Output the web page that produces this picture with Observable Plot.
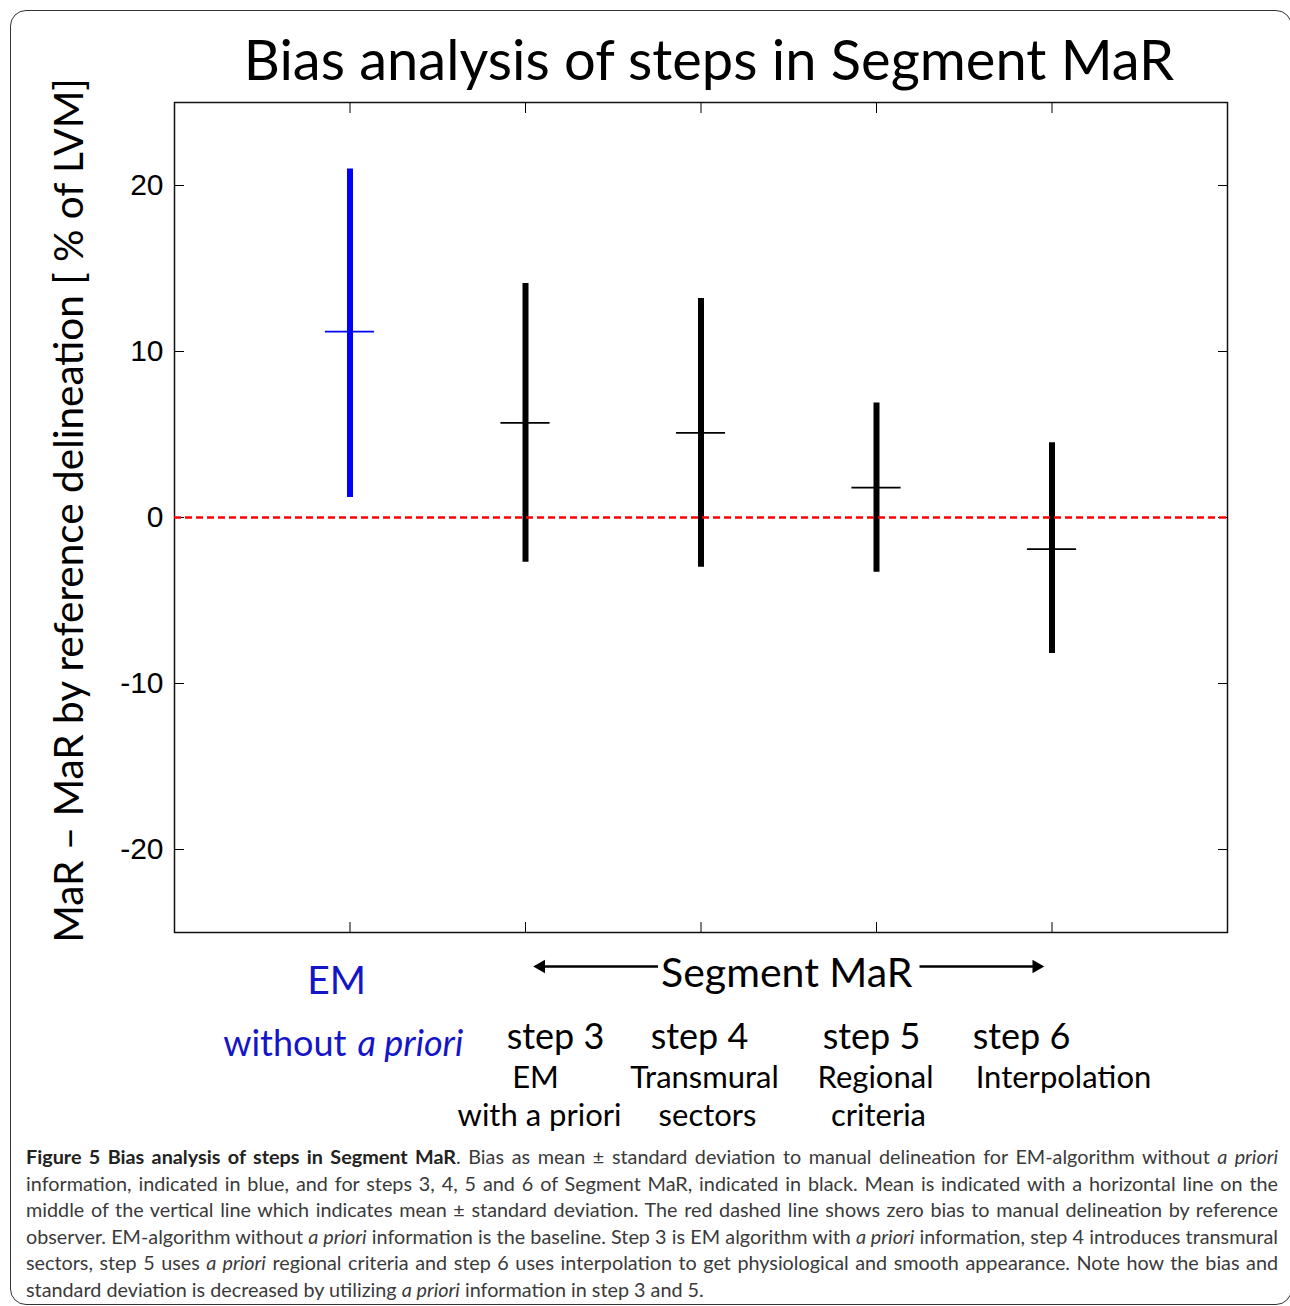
<!DOCTYPE html>
<html><head><meta charset="utf-8">
<script src="https://cdn.jsdelivr.net/npm/d3@7"></script>
<script src="https://cdn.jsdelivr.net/npm/@observablehq/plot@0.6"></script>
<style>
body{margin:0;background:#fff;}
#wrap{position:relative;width:1290px;height:1306px;overflow:hidden;background:#fff;}
#border{position:absolute;left:10px;top:10px;width:1282px;height:1295px;border:1.5px solid #333;border-radius:16px;box-sizing:border-box;}
#chart{position:absolute;left:0;top:0;}
#caption{position:absolute;left:26px;top:1143px;width:1252px;font-family:Lato,"Open Sans",sans-serif;font-size:19.8px;color:#3a3a3a;line-height:26.6px;}
#caption .ln{text-align:justify;text-align-last:justify;white-space:nowrap;}
#caption .last{text-align:left;text-align-last:left;}
#caption b{color:#222;}
</style>
</head><body>
<div id="wrap">
<div id="border"></div>
<div id="chart"></div>
<div id="caption"></div>
</div>
<script>
// ---- data ----
const categories = ["EM without a priori", "step 3", "step 4", "step 5", "step 6"];
const means = [11.2, 5.7, 5.1, 1.8, -1.9];
const lows  = [1.2, -2.7, -3.0, -3.3, -8.2];
const highs = [21.0, 14.1, 13.2, 6.9, 4.5];
const yTicks = [-20, -10, 0, 10, 20];
const titleText = "Bias analysis of steps in Segment MaR";
const yLabel = "MaR \u2013 MaR by reference delineation [ % of LVM]";
const baseLabel = ["EM", "without", "a priori"];
const groupLabel = "Segment MaR";
const stepNames = ["step 3", "step 4", "step 5", "step 6"];
const stepDesc1 = ["EM", "Transmural", "Regional", "Interpolation"];
const stepDesc2 = ["with a priori", "sectors", "criteria"];
const captionLines = [
 "<b>Figure 5 Bias analysis of steps in Segment MaR</b>. Bias as mean \u00b1 standard deviation to manual delineation for EM-algorithm without <i>a priori</i>",
 "information, indicated in blue, and for steps 3, 4, 5 and 6 of Segment MaR, indicated in black. Mean is indicated with a horizontal line on the",
 "middle of the vertical line which indicates mean \u00b1 standard deviation. The red dashed line shows zero bias to manual delineation by reference",
 "observer. EM-algorithm without <i>a priori</i> information is the baseline. Step 3 is EM algorithm with <i>a priori</i> information, step 4 introduces transmural",
 "sectors, step 5 uses <i>a priori</i> regional criteria and step 6 uses interpolation to get physiological and smooth appearance. Note how the bias and",
 "standard deviation is decreased by utilizing <i>a priori</i> information in step 3 and 5."
];

// ---- layout ----
const BLUE = "#0000ff", TEXTBLUE = "#1414c8";
const positions = categories.map((c, i) => i + 1);
const data = categories.map((c, i) => ({cat: c, pos: i + 1, mean: means[i], lo: lows[i], hi: highs[i], color: i === 0 ? BLUE : "black"}));
const steps = data.slice(1);
const F = "Lato, 'Open Sans', sans-serif";
const halfTick = 0.14;
const nameDx = [30, -1.5, -5, -30.5];
const d1Dx = [10, 3.5, -1, 11.5];
const d2Dx = [14, 6.5, 2];
const yMin = -25, yMax = 25;
const first = steps[0].pos, last = steps[steps.length - 1].pos, mid = (first + last) / 2;

const labelMarks = [];
steps.forEach((s, i) => {
  labelMarks.push(Plot.text([stepNames[i]], {x: [s.pos], text: d => d, frameAnchor: "bottom", lineAnchor: "bottom", dy: 116, dx: nameDx[i], fontSize: 36, fontFamily: F, fill: "black"}));
  labelMarks.push(Plot.text([stepDesc1[i]], {x: [s.pos], text: d => d, frameAnchor: "bottom", lineAnchor: "bottom", dy: 155, dx: d1Dx[i], fontSize: 31, fontFamily: F, fill: "black"}));
  if (stepDesc2[i]) labelMarks.push(Plot.text([stepDesc2[i]], {x: [s.pos], text: d => d, frameAnchor: "bottom", lineAnchor: "bottom", dy: 193, dx: d2Dx[i], fontSize: 31, fontFamily: F, fill: "black"}));
});

const chart = Plot.plot({
  width: 1290, height: 1140,
  marginLeft: 174, marginRight: 63, marginTop: 102, marginBottom: 208,
  x: {domain: [0, 6]},
  y: {domain: [yMin, yMax]},
  color: {type: "identity"},
  style: {background: "transparent", color: "black", overflow: "visible"},
  marks: [
    Plot.frame({stroke: "#111", strokeWidth: 1.5}),
    Plot.axisY(yTicks, {anchor: "left", tickSize: 0, tickPadding: 11, fontSize: 30, fontFamily: "'Liberation Sans', Arial, sans-serif", label: null, tickFormat: d => String(d), fill: "black"}),
    Plot.axisY(yTicks, {anchor: "left", tickSize: -10, tickFormat: () => "", label: null}),
    Plot.axisY(yTicks, {anchor: "right", tickSize: -10, tickFormat: () => "", label: null}),
    Plot.axisX(positions, {anchor: "bottom", tickSize: -10, tickFormat: () => "", label: null}),
    Plot.axisX(positions, {anchor: "top", tickSize: -10, tickFormat: () => "", label: null}),
    Plot.ruleX(data, {x: "pos", y1: "lo", y2: "hi", stroke: "color", strokeWidth: 6}),
    Plot.ruleY(data, {y: "mean", x1: d => d.pos - halfTick, x2: d => d.pos + halfTick, stroke: "color", strokeWidth: 1.8}),
    Plot.ruleY([0], {stroke: "#ff0000", strokeWidth: 2.5, strokeDasharray: "7,4"}),
    // title
    Plot.text([titleText], {text: d => d, frameAnchor: "top", lineAnchor: "bottom", dy: -23, dx: 8, fontSize: 56, fontFamily: F, fill: "black"}),
    // y label
    Plot.text([yLabel], {text: d => d, frameAnchor: "left", textAnchor: "middle", rotate: -90, lineAnchor: "bottom", dx: -92, dy: -7, fontSize: 40.5, fontFamily: F, fill: "black"}),
    // baseline label
    Plot.text([baseLabel[0]], {x: [data[0].pos], text: d => d, frameAnchor: "bottom", lineAnchor: "bottom", dy: 61, dx: -13.5, fontSize: 39, fontFamily: F, fill: TEXTBLUE}),
    Plot.text([baseLabel[1]], {x: [data[0].pos], text: d => d, frameAnchor: "bottom", lineAnchor: "bottom", textAnchor: "end", dy: 123, dx: -3.5, fontSize: 36, fontFamily: F, fill: TEXTBLUE}),
    Plot.text([baseLabel[2]], {x: [data[0].pos], text: d => d, frameAnchor: "bottom", lineAnchor: "bottom", textAnchor: "start", dy: 123, dx: 7.5, fontSize: 36, fontFamily: F, fontStyle: "italic", fill: TEXTBLUE}),
    // group label with arrows
    Plot.text([groupLabel], {x: [mid], text: d => d, frameAnchor: "bottom", lineAnchor: "bottom", dy: 54, dx: -2, fontSize: 41, fontFamily: F, fill: "black"}),
    Plot.link([[mid - 0.745, first + 0.06], [mid + 0.745, last - 0.06]], {x1: d => d[0], x2: d => d[1], y1: () => yMin, y2: () => yMin, dy: 34, stroke: "black", strokeWidth: 2.5}),
    Plot.dot([first], {x: d => d, y: () => yMin, dy: 34, dx: 15.6, symbol: "triangle2", r: 6.5, rotate: -90, fill: "black", stroke: "none"}),
    Plot.dot([last], {x: d => d, y: () => yMin, dy: 34, dx: -15.6, symbol: "triangle2", r: 6.5, rotate: 90, fill: "black", stroke: "none"}),
    ...labelMarks
  ]
});
document.getElementById("chart").appendChild(chart);

const cap = document.getElementById("caption");
captionLines.forEach((l, i) => {
  const div = document.createElement("div");
  div.className = i === captionLines.length - 1 ? "ln last" : "ln";
  div.innerHTML = l;
  cap.appendChild(div);
});
</script>
</body></html>
